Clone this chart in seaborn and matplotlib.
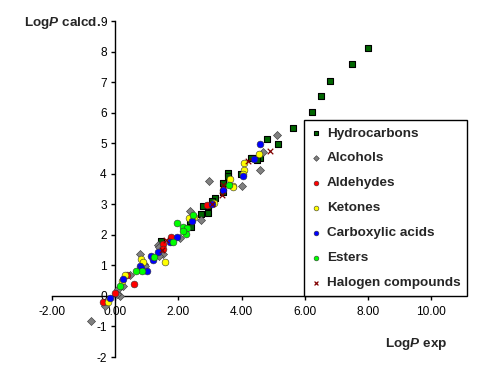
import matplotlib
matplotlib.use("Agg")
import matplotlib.pyplot as plt
import seaborn as sns
import pandas as pd
import numpy as np

# ---------------- data ----------------
hydro_x = [8.0, 7.5, 6.8, 6.53, 6.22, 5.62, 4.82, 5.16, 4.57, 4.33, 4.29, 4.48, 3.99, 3.58, 3.58,
           3.43, 3.43, 3.16, 3.06, 2.77, 2.95, 2.71, 2.95, 2.37, 2.40, 1.45]
hydro_y = [8.1, 7.6, 7.05, 6.55, 6.02, 5.5, 5.15, 4.97, 4.53, 4.53, 4.52, 4.46, 4.0, 4.02, 3.92,
           3.7, 3.4, 3.2, 3.12, 2.93, 2.94, 2.69, 2.71, 2.34, 2.25, 1.81]

alc_x = [5.12, 4.69, 4.57, 4.01, 2.96, 2.37, 2.71, 2.04, 1.37, 1.40, 1.53, 1.40, 0.79, 0.92,
         0.95, 0.47, 0.24, 0.10, 0.16, 0.05, -0.32, -0.77]
alc_y = [5.28, 4.71, 4.13, 3.6, 3.75, 2.78, 2.47, 1.9, 1.67, 1.6, 1.38, 1.3, 1.38, 1.03,
         0.97, 0.69, 0.32, 0.23, 0.01, 0.05, -0.32, -0.83]

ald_x = [2.90, 1.77, 1.53, 1.53, 0.37, 0.60, 0.00, -0.37]
ald_y = [2.98, 1.92, 1.70, 1.52, 0.69, 0.39, 0.10, -0.19]

ket_x = [4.54, 4.09, 4.08, 4.06, 3.64, 3.72, 3.74, 3.14, 2.50, 2.35, 1.58, 0.82, 0.88, 0.32,
         0.23, -0.23]
ket_y = [4.64, 4.36, 4.11, 4.0, 3.84, 3.6, 3.56, 3.04, 2.58, 2.55, 1.12, 1.21, 1.10, 0.69,
         0.48, -0.19]

acid_x = [4.59, 4.40, 4.06, 3.41, 3.06, 2.43, 1.95, 1.74, 1.37, 1.13, 1.19, 0.79, 0.82, 1.00,
          0.26, -0.16]
acid_y = [4.96, 4.47, 3.94, 3.48, 3.02, 2.45, 1.94, 1.76, 1.43, 1.30, 1.18, 0.99, 0.91, 0.83,
          0.56, -0.08]

ester_x = [3.62, 2.48, 1.96, 2.14, 2.29, 2.24, 2.14, 1.83, 1.23, 0.84, 0.66, 0.16]
ester_y = [3.62, 2.66, 2.39, 2.25, 2.22, 2.03, 2.14, 1.78, 1.29, 0.80, 0.80, 0.34]

hal_x = [4.90, 4.22, 3.41, 3.38, 3.06, 1.61, 1.48]
hal_y = [4.76, 4.42, 3.64, 3.31, 3.00, 1.84, 1.49]

categories = ["Hydrocarbons", "Alcohols", "Aldehydes", "Ketones",
              "Carboxylic acids", "Esters", "Halogen compounds"]
xs = [hydro_x, alc_x, ald_x, ket_x, acid_x, ester_x, hal_x]
ys = [hydro_y, alc_y, ald_y, ket_y, acid_y, ester_y, hal_y]

x_ticks = [-2, 0, 2, 4, 6, 8, 10]
y_ticks = [-2, -1, 0, 1, 2, 3, 4, 5, 6, 7, 8, 9]

# ---------------- styling ----------------
colors = ["#006600", "#808080", "#FF0000", "#FFFF00", "#0000FF", "#00FF00", "#800000"]
markers = ["s", "D", "o", "o", "o", "o", "x"]
sizes = [16, 17, 24, 24, 24, 24, 16]

sns.set_style("white")
plt.rcParams["font.family"] = ["Liberation Sans", "DejaVu Sans"]
plt.rcParams["mathtext.fontset"] = "custom"
plt.rcParams["mathtext.it"] = "Liberation Sans:italic:bold"
plt.rcParams["mathtext.rm"] = "Liberation Sans:bold"

frames = []
for c, x, y in zip(categories, xs, ys):
    frames.append(pd.DataFrame({"x": x, "y": y, "cat": c}))
df = pd.concat(frames, ignore_index=True)

fig = plt.figure(figsize=(5.03, 3.71), dpi=100)
W, H = 503, 371
ax = fig.add_axes([52 / W, 1 - 357 / H, (431 - 52) / W, (357 - 21) / H])

for c, col, m, s in zip(categories, colors, markers, sizes):
    sub = df[df["cat"] == c]
    if m == "x":
        sns.scatterplot(data=sub, x="x", y="y", ax=ax, marker="x", color=col, s=s,
                        linewidth=0.9, label=c, zorder=3)
    else:
        sns.scatterplot(data=sub, x="x", y="y", ax=ax, marker=m, color=col, s=s,
                        edgecolor="black" if c == "Hydrocarbons" else "#333333",
                        linewidth=0.8 if c == "Hydrocarbons" else 0.4, label=c, zorder=3)

ax.set_xlim(-2, 10)
ax.set_ylim(-2, 9)
ax.set_xticks(x_ticks)
ax.set_xticklabels([f"{v:.2f}" for v in x_ticks])
ax.set_yticks(y_ticks)
ax.set_yticklabels([str(v) for v in y_ticks])
ax.set_xlabel("")
ax.set_ylabel("")

for side in ["top", "right"]:
    ax.spines[side].set_visible(False)
ax.spines["left"].set_position(("data", 0))
ax.spines["bottom"].set_position(("data", 0))
for side in ["left", "bottom"]:
    ax.spines[side].set_color("black")
    ax.spines[side].set_linewidth(1.0)
ax.tick_params(axis="both", direction="out", length=3, width=1, color="black",
               labelsize=8.6, colors="black", bottom=True, left=True)
ax.tick_params(axis="x", pad=4)
ax.tick_params(axis="y", pad=3)
ax.grid(False)

fig.text(24 / W, 1 - 23 / H, r"Log$\mathit{P}$ calcd.", fontsize=9.7, fontweight="bold",
         ha="left", va="center")
fig.text(385 / W, 1 - 344 / H, r"Log$\mathit{P}$ exp", fontsize=9.7, fontweight="bold",
         ha="left", va="center")

leg = ax.legend(loc="lower left", bbox_to_anchor=(304 / W, 1 - 296 / H),
                bbox_transform=fig.transFigure, frameon=True, fancybox=False,
                edgecolor="black", framealpha=1, borderaxespad=0, borderpad=0.5,
                labelspacing=0.93, handlelength=0.75, handletextpad=0.45,
                markerscale=0.7, prop={"weight": "bold", "size": 9.7})
leg.get_frame().set_linewidth(1.0)

fig.savefig("out.png", dpi=100)
